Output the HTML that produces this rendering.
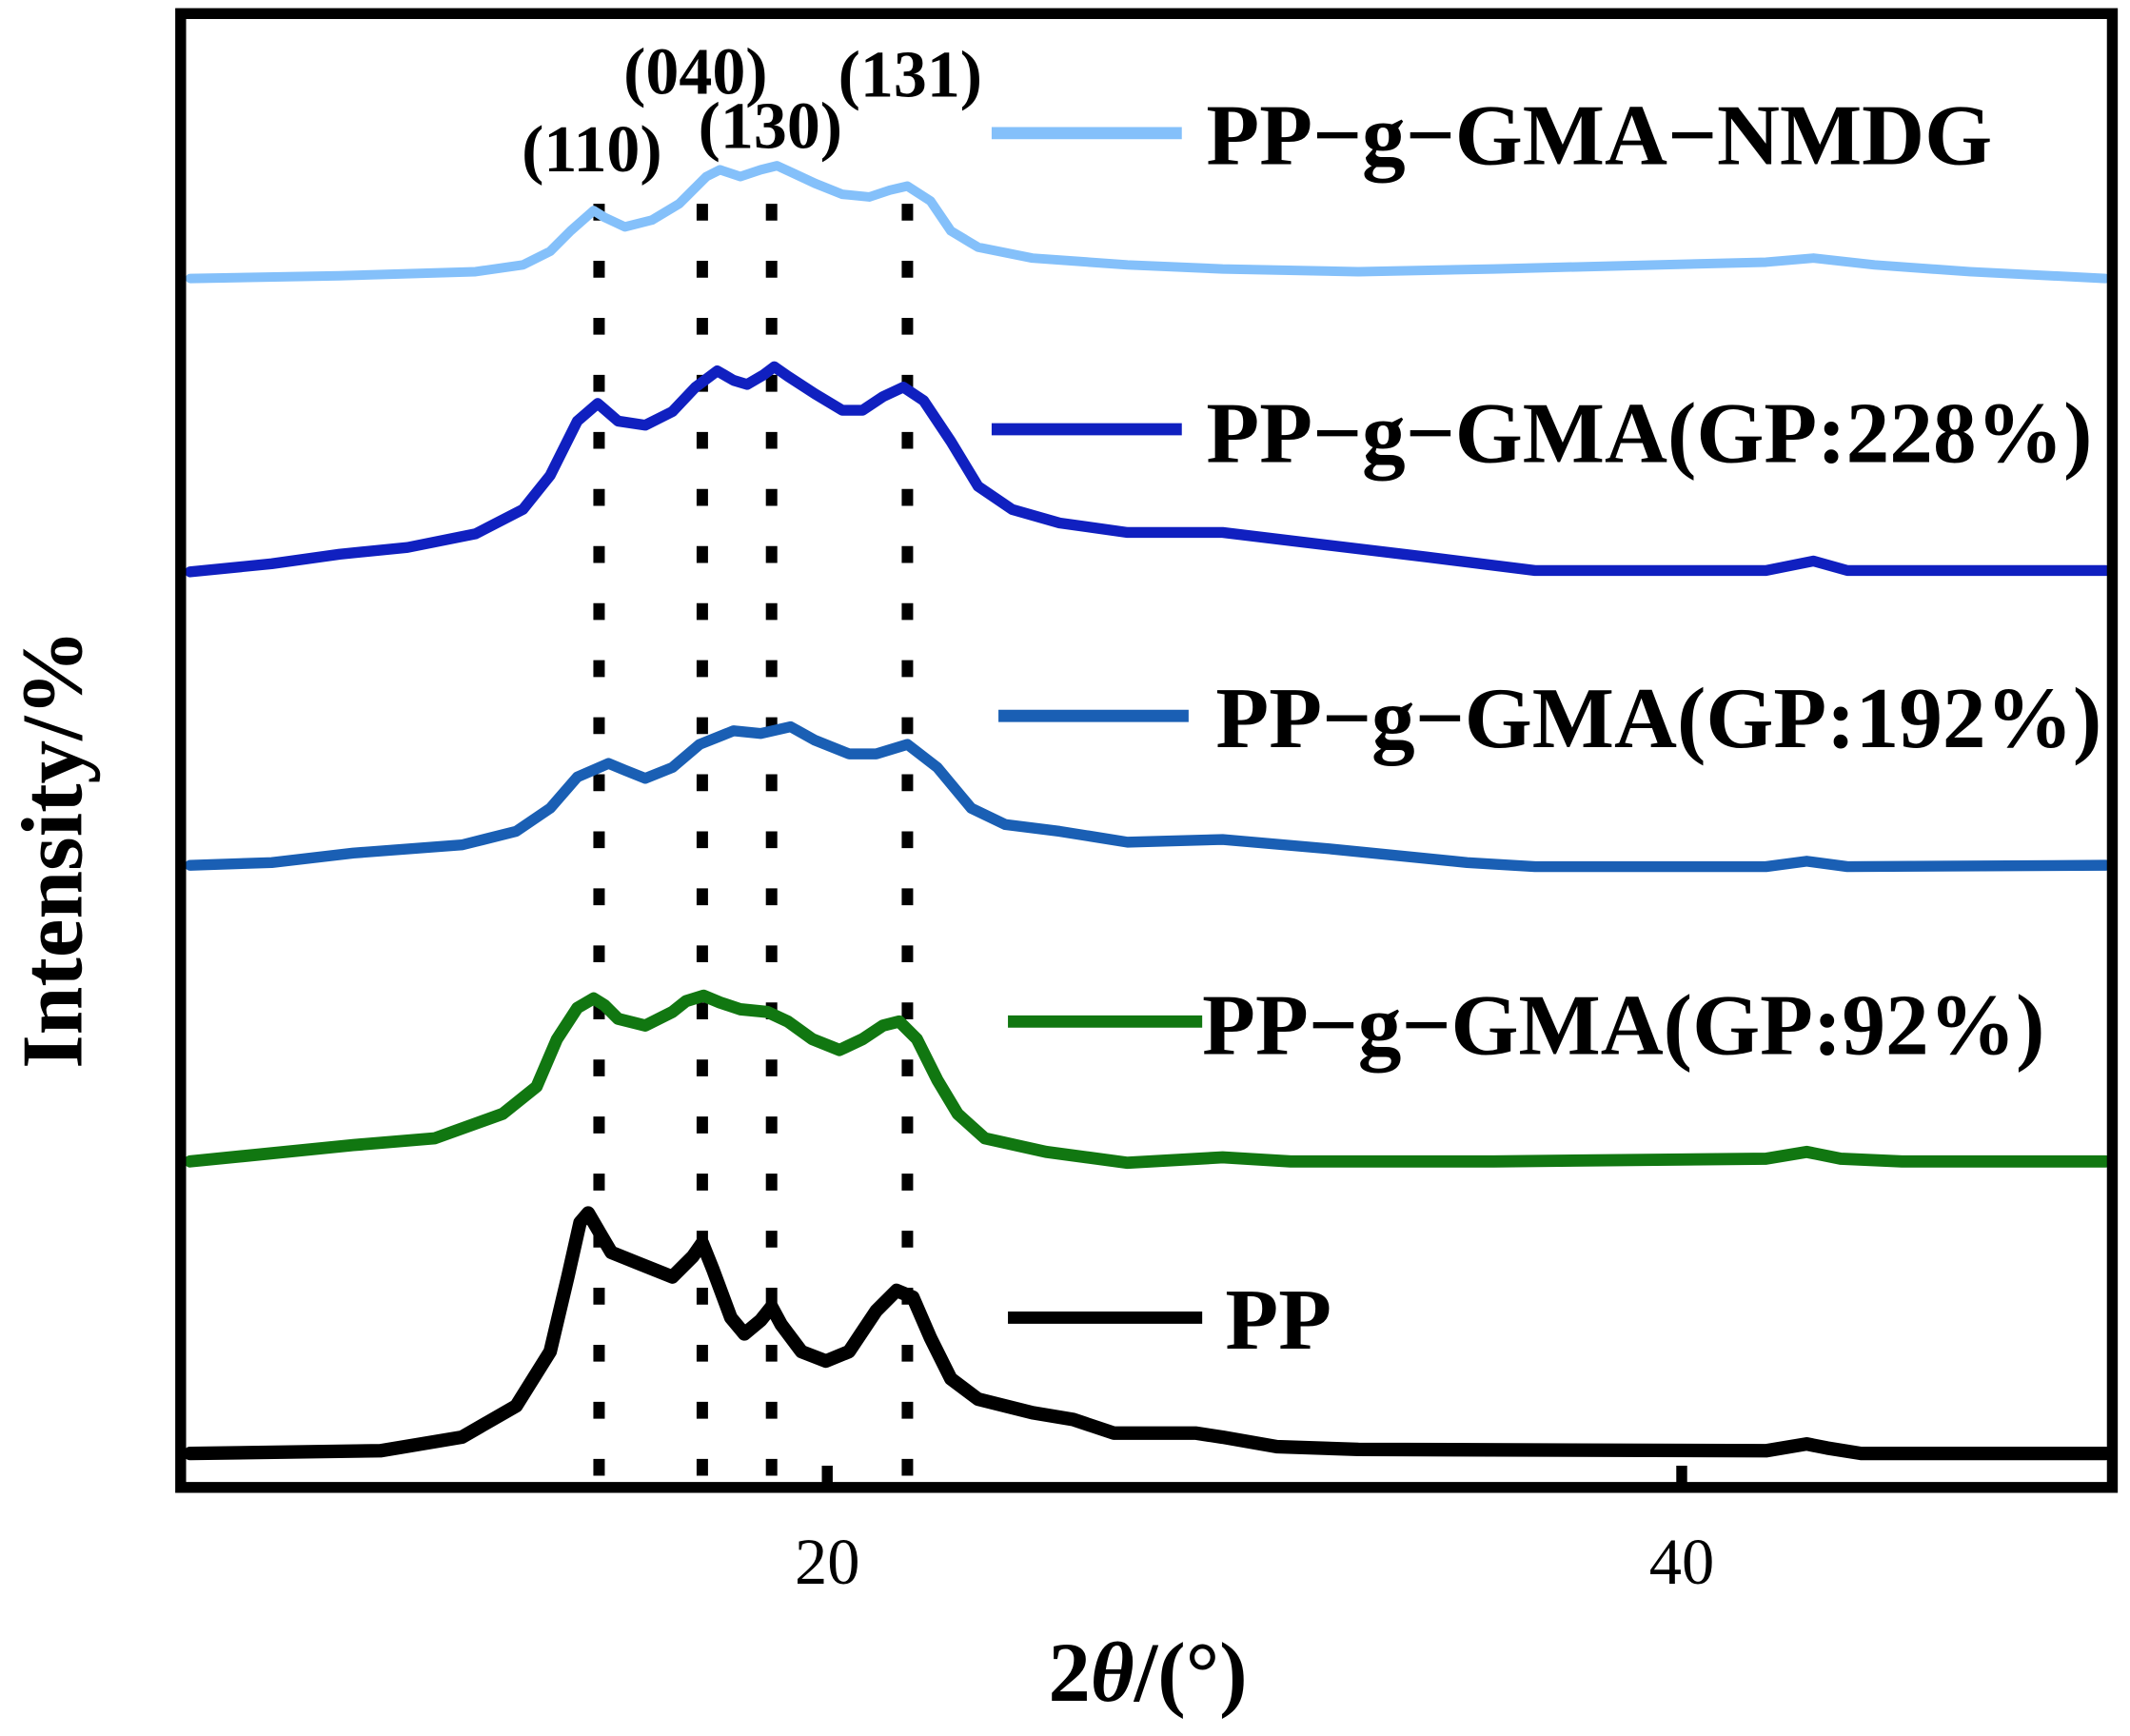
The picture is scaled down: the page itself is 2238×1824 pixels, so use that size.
<!DOCTYPE html>
<html><head><meta charset="utf-8"><style>
html,body{margin:0;padding:0;background:#fff;}
svg{display:block;}
text{font-family:"Liberation Serif",serif;}
</style></head><body>
<svg width="2238" height="1824" viewBox="0 0 1568 1278" preserveAspectRatio="none" xmlns="http://www.w3.org/2000/svg">
<rect x="0" y="0" width="1568" height="1278" fill="#fff"/>
<g stroke="#000" stroke-width="8.4" stroke-dasharray="12.4 29.6" fill="none">
<line x1="441" y1="150" x2="441" y2="1092"/>
<line x1="517" y1="150" x2="517" y2="1092"/>
<line x1="568" y1="150" x2="568" y2="1092"/>
<line x1="668" y1="150" x2="668" y2="1092"/>
</g>
<g fill="none" stroke-linejoin="round" stroke-linecap="round">
<polyline stroke="#000" stroke-width="10" points="140,1070 280,1068 340,1058 380,1035 405,995 418,940 427,900 433,893 440,905 450,922 470,930 495,940 510,925 517,915 525,935 538,970 548,982 560,972 568,962 575,975 590,995 608,1002 625,995 645,965 660,950 672,955 685,985 700,1015 720,1030 760,1040 790,1045 820,1055 880,1055 900,1058 940,1065 1000,1067 1300,1068 1330,1063 1345,1066 1370,1070 1550,1070"/>
<polyline stroke="#117711" stroke-width="9" points="140,855 260,843 320,838 370,820 395,800 410,765 425,742 437,735 445,740 455,750 475,755 495,745 505,737 518,733 530,738 545,743 565,745 580,752 598,765 618,773 635,765 650,755 662,752 675,765 690,795 705,820 725,838 770,848 800,852 830,856 900,852 950,855 1100,855 1300,853 1330,848 1355,853 1400,855 1550,855"/>
<polyline stroke="#1a5fb4" stroke-width="8" points="140,637 200,635 260,628 340,622 380,612 405,595 425,572 448,562 460,567 475,573 495,565 515,548 540,538 560,540 582,535 600,545 625,555 645,555 668,548 690,565 715,595 740,607 780,612 830,620 900,618 980,625 1080,635 1130,638 1300,638 1330,634 1360,638 1550,637"/>
<polyline stroke="#1020c0" stroke-width="8" points="140,421 200,415 250,408 300,403 350,393 385,375 405,350 425,310 440,297 455,310 475,313 495,303 512,285 528,273 540,280 550,283 562,276 570,270 580,277 600,290 620,302 635,302 650,292 665,285 680,295 700,325 720,358 745,375 780,385 830,392 880,392 900,392 950,398 1050,410 1130,420 1300,420 1335,413 1360,420 1550,420"/>
<polyline stroke="#84c0fa" stroke-width="7" points="140,205 250,203 350,200 385,195 405,185 420,170 437,155 445,160 460,167 480,162 500,150 520,130 530,125 545,130 560,125 572,122 585,128 600,135 620,143 640,145 655,140 668,137 685,148 700,170 720,182 760,190 830,195 900,198 1000,200 1100,198 1300,193 1335,190 1380,195 1450,200 1550,205"/>
</g>
<g stroke-width="9">
<line x1="730" y1="98" x2="870" y2="98" stroke="#84c0fa"/>
<line x1="730" y1="316" x2="870" y2="316" stroke="#1020c0"/>
<line x1="735" y1="527" x2="875" y2="527" stroke="#1a5fb4"/>
<line x1="742" y1="752" x2="885" y2="752" stroke="#117711"/>
<line x1="742" y1="970" x2="885" y2="970" stroke="#000"/>
</g>
<g font-size="64" font-weight="bold" fill="#000">
<text x="888" y="121">PP−g−GMA−NMDG</text>
<text x="888" y="340">PP−g−GMA(GP:228%)</text>
<text x="895" y="550">PP−g−GMA(GP:192%)</text>
<text x="885" y="776">PP−g−GMA(GP:92%)</text>
<text x="902" y="993">PP</text>
</g>
<g font-size="49" font-weight="bold" fill="#000">
<text x="384" y="126">(110)</text>
<text x="459" y="69">(040)</text>
<text x="514" y="109">(130)</text>
<text x="617" y="71">(131)</text>
</g>
<rect x="133" y="10" width="1422" height="1085" fill="none" stroke="#000" stroke-width="8"/>
<g stroke="#000" stroke-width="8">
<line x1="609" y1="1095" x2="609" y2="1079"/>
<line x1="1238" y1="1095" x2="1238" y2="1079"/>
</g>
<g font-size="48" fill="#000" text-anchor="middle">
<text x="609" y="1166">20</text>
<text x="1238" y="1166">40</text>
</g>
<text x="845" y="1252" font-size="62" font-weight="bold" text-anchor="middle">2<tspan font-style="italic">θ</tspan>/(°)</text>
<text transform="translate(60,625) rotate(-90)" font-size="64" font-weight="bold" text-anchor="middle">Intensity/%</text>
</svg>
</body></html>
